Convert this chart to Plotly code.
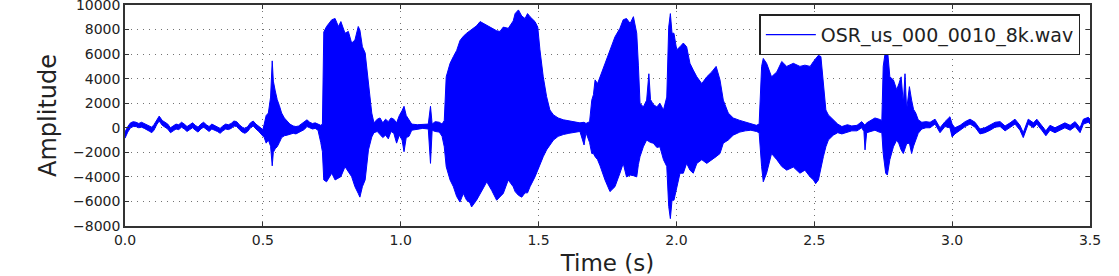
import plotly.graph_objects as go

# Envelope of the waveform: time (s), upper and lower amplitude
time_s = [0.000, 0.010, 0.020, 0.030, 0.040, 0.050, 0.060, 0.070, 0.080, 0.090, 0.097, 0.105, 0.115, 0.124, 0.135, 0.145, 0.155, 0.165, 0.175, 0.185, 0.195, 0.205, 0.215, 0.225, 0.235, 0.245, 0.255, 0.265, 0.275, 0.285, 0.295, 0.305, 0.315, 0.325, 0.335, 0.345, 0.355, 0.365, 0.375, 0.385, 0.395, 0.405, 0.415, 0.425, 0.435, 0.445, 0.455, 0.465, 0.475, 0.485, 0.495, 0.500, 0.505, 0.512, 0.520, 0.528, 0.534, 0.538, 0.545, 0.552, 0.560, 0.568, 0.578, 0.588, 0.598, 0.610, 0.620, 0.630, 0.640, 0.650, 0.660, 0.670, 0.680, 0.690, 0.700, 0.710, 0.716, 0.721, 0.731, 0.741, 0.750, 0.762, 0.774, 0.783, 0.798, 0.810, 0.822, 0.834, 0.846, 0.852, 0.861, 0.871, 0.883, 0.895, 0.903, 0.915, 0.925, 0.935, 0.945, 0.955, 0.965, 0.975, 0.985, 0.995, 1.005, 1.012, 1.020, 1.030, 1.040, 1.060, 1.080, 1.100, 1.108, 1.114, 1.125, 1.140, 1.150, 1.158, 1.165, 1.179, 1.191, 1.203, 1.215, 1.227, 1.239, 1.251, 1.257, 1.275, 1.288, 1.300, 1.312, 1.330, 1.348, 1.360, 1.372, 1.390, 1.408, 1.415, 1.427, 1.439, 1.451, 1.460, 1.469, 1.487, 1.497, 1.505, 1.517, 1.529, 1.541, 1.554, 1.571, 1.590, 1.610, 1.630, 1.650, 1.665, 1.672, 1.685, 1.693, 1.699, 1.705, 1.714, 1.723, 1.741, 1.759, 1.777, 1.795, 1.807, 1.819, 1.832, 1.844, 1.856, 1.862, 1.868, 1.880, 1.892, 1.900, 1.906, 1.916, 1.929, 1.940, 1.953, 1.965, 1.972, 1.978, 1.984, 1.991, 1.995, 2.001, 2.013, 2.025, 2.037, 2.049, 2.061, 2.074, 2.092, 2.110, 2.128, 2.144, 2.158, 2.170, 2.188, 2.206, 2.230, 2.250, 2.270, 2.290, 2.300, 2.309, 2.315, 2.327, 2.345, 2.364, 2.382, 2.400, 2.424, 2.448, 2.466, 2.485, 2.497, 2.505, 2.515, 2.524, 2.533, 2.542, 2.551, 2.569, 2.585, 2.600, 2.620, 2.636, 2.655, 2.672, 2.680, 2.684, 2.690, 2.705, 2.720, 2.735, 2.745, 2.750, 2.759, 2.765, 2.774, 2.787, 2.799, 2.807, 2.815, 2.823, 2.829, 2.835, 2.845, 2.853, 2.860, 2.868, 2.877, 2.890, 2.905, 2.920, 2.938, 2.956, 2.974, 2.992, 3.000, 3.010, 3.029, 3.047, 3.065, 3.083, 3.101, 3.119, 3.138, 3.156, 3.174, 3.192, 3.210, 3.228, 3.246, 3.258, 3.276, 3.295, 3.307, 3.325, 3.340, 3.355, 3.373, 3.391, 3.409, 3.428, 3.446, 3.464, 3.476, 3.494, 3.500]

upper_amp = [-350, 100, 400, 500, 450, 350, 450, 350, 250, 100, 50, 250, 650, 950, 600, 450, 300, 0, 150, 300, 250, 450, 300, 100, 250, 400, 200, 50, 300, 450, 250, 100, 300, 200, 100, -50, 150, 300, 250, 350, 550, 500, 250, 50, -50, 100, 400, 550, 300, 100, -100, -150, 300, 1000, 1200, 2500, 5450, 3800, 3000, 2300, 1800, 1200, 800, 500, 300, 150, 100, 150, 300, 450, 650, 450, 350, 400, 300, 200, 300, 7800, 8250, 8500, 8800, 8900, 8250, 8650, 7700, 7850, 6900, 7150, 8250, 7950, 6600, 6100, 3600, 1200, 400, 700, 800, 400, 700, 500, 800, 700, 400, 1000, 1400, 1750, 1000, 640, 300, 250, 250, 300, 1750, 300, 500, 450, 300, 600, 4150, 5250, 5800, 6300, 7100, 7450, 7700, 7900, 8000, 8300, 8650, 8500, 8350, 8150, 7900, 7850, 8200, 8100, 8700, 9300, 9600, 9100, 8900, 9300, 9050, 8650, 8200, 6350, 4150, 2550, 1450, 1050, 800, 650, 550, 500, 400, 450, 350, 500, 2250, 2700, 3900, 3600, 4150, 5250, 6350, 7400, 8100, 8800, 8900, 8500, 9050, 7700, 5100, 2000, 1700, 2250, 4400, 2300, 1900, 1700, 2000, 1450, 2500, 8200, 9300, 7700, 7700, 7000, 6350, 6600, 6900, 6600, 5250, 4700, 4150, 3600, 4150, 4550, 5000, 3900, 2250, 1200, 800, 600, 450, 350, 200, 300, 5000, 5650, 5250, 4150, 4550, 5400, 5000, 5250, 5000, 5100, 5000, 5400, 5650, 5900, 5800, 3350, 1450, 1050, 650, 300, 100, 250, 150, 200, 500, 300, 200, 400, 600, 800, 700, 600, 5000, 6400, 6500, 4150, 3900, 3100, 3600, 4150, 2000, 4400, 1450, 3350, 2250, 1500, 1200, 650, 450, 500, 450, 700, 0, 500, 900, 300, 0, 200, 500, 700, 450, -100, 0, 200, 450, 500, 150, 400, 700, 200, -400, 700, 400, 700, 200, -250, 200, 0, 200, 400, 200, 500, 0, 700, 850, 700]

lower_amp = [-850, -350, 0, 100, 100, 0, 50, -50, -150, -300, -400, -200, 250, 550, 200, 50, -100, -400, -250, -100, -150, 50, -100, -300, -150, 0, -200, -350, -100, 50, -150, -300, -100, -200, -300, -450, -250, -100, -150, -50, 150, 100, -150, -350, -450, -300, 0, 150, -100, -300, -500, -650, -800, -1250, -1000, -1500, -3100, -2000, -1700, -1550, -1200, -800, -650, -600, -500, -450, -500, -350, -250, -150, 100, 0, -100, -50, -200, -1200, -1950, -4250, -4400, -4000, -3700, -4250, -4100, -3980, -3170, -3600, -3980, -4800, -5350, -5650, -4800, -4250, -1800, -750, -400, -300, -500, -800, -600, -900, -300, -450, -1250, -600, -1000, -1950, -800, -700, -200, -100, -50, -100, -2900, -200, -300, -350, -700, -1550, -3170, -4250, -4800, -5600, -6050, -5350, -5900, -6100, -6450, -5900, -5350, -4900, -4400, -5100, -5900, -5600, -5350, -4250, -4800, -5200, -5500, -5650, -5300, -5300, -4800, -4000, -3450, -3000, -2350, -1800, -1450, -1000, -700, -550, -450, -350, -300, -1400, -400, -1200, -2100, -2100, -2350, -2600, -3100, -4250, -5200, -4800, -3700, -2900, -4000, -3850, -3900, -4000, -3000, -2350, -1550, -1000, -1100, -1200, -1250, -1600, -1550, -2600, -3150, -6400, -7400, -5900, -5900, -5500, -4800, -3700, -3700, -2900, -3450, -3700, -2900, -2600, -2900, -2600, -2350, -2100, -1250, -1000, -600, -350, -250, -200, -300, -400, -3170, -4400, -3700, -2100, -2600, -3150, -3450, -3200, -3700, -3450, -4000, -4250, -4550, -4250, -3200, -2350, -1550, -1000, -600, -400, -500, -350, -250, -250, 0, -300, -1800, -400, -300, -200, -350, -400, -2100, -3700, -3850, -2600, -1550, -1000, -1300, -1800, -2100, -1700, -1300, -1250, -2100, -1500, -1000, -450, -100, 0, 0, 300, -400, 100, 0, -750, -500, -200, 100, 300, 50, -500, -400, -200, 50, 100, -250, 0, 300, -200, -800, 300, 0, 300, -200, -650, -200, -400, -200, 0, -200, 100, -400, 300, 450, 300]

series_name = "OSR_us_000_0010_8k.wav"
x_ticks = [0.0, 0.5, 1.0, 1.5, 2.0, 2.5, 3.0, 3.5]
y_ticks = [10000, 8000, 6000, 4000, 2000, 0, -2000, -4000, -6000, -8000]
y_tick_text = ["10000", "8000", "6000", "4000", "2000", "0", "\u22122000", "\u22124000", "\u22126000", "\u22128000"]

BLUE = "#0000ff"
FONT = "DejaVu Sans"

fig = go.Figure()
fig.add_trace(go.Scatter(
    x=time_s + time_s[::-1],
    y=upper_amp + lower_amp[::-1],
    mode="lines",
    fill="toself",
    fillcolor=BLUE,
    line=dict(color=BLUE, width=1),
    showlegend=False,
    hoverinfo="skip",
))
fig.add_trace(go.Scatter(
    x=[None], y=[None], mode="lines",
    line=dict(color=BLUE, width=1.2),
    name=series_name,
))

axis_common = dict(
    showline=True, linecolor="#333333", linewidth=1.5, mirror="ticks",
    ticks="inside", ticklen=4, tickcolor="#333333", tickwidth=1,
    showgrid=True, gridcolor="rgba(0,0,0,0.55)", gridwidth=1, griddash="1px,5px",
    zeroline=False, ticklabeloverflow="allow", automargin=False,
    tickfont=dict(family=FONT, size=14, color="#222222"),
)

fig.update_xaxes(
    range=[0, 3.5], tickvals=x_ticks, tickformat=".1f",
    title=dict(text="Time (s)", font=dict(family=FONT, size=23, color="#222222"), standoff=9),
    **axis_common,
)
fig.update_yaxes(
    range=[-8000, 10000], tickvals=y_ticks, ticktext=y_tick_text,
    title=dict(text="Amplitude", font=dict(family=FONT, size=24, color="#222222"), standoff=10),
    **axis_common,
)

fig.update_layout(
    width=1119, height=276,
    margin=dict(l=125, r=29, t=5, b=50),
    plot_bgcolor="white", paper_bgcolor="white",
    font=dict(family=FONT),
    legend=dict(
        x=0.990, y=0.958, xanchor="right", yanchor="top",
        bordercolor="#222222", borderwidth=1.5, bgcolor="white",
        itemwidth=50,
        font=dict(family=FONT, size=19, color="#222222"),
    ),
)

fig.write_html("out.html")
